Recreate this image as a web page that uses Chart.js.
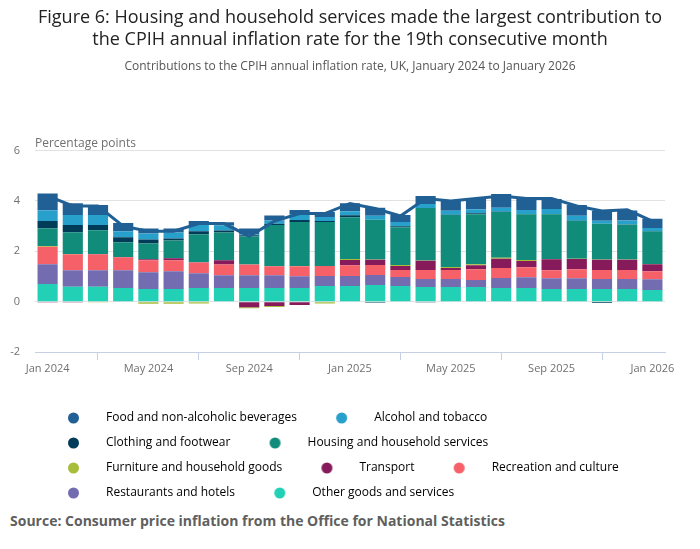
<!DOCTYPE html>
<html lang="en">
<head>
  <meta charset="UTF-8" />
  <title>Contributions to the CPIH annual inflation rate</title>
  <script src="https://cdn.jsdelivr.net/npm/chart.js"></script>
  <style>
    body { margin: 0; background: #fff; font-family: "Open Sans", sans-serif; }
    #wrap { position: relative; width: 700px; height: 509px; }
    .source { margin: 0; padding: 2px 10px; font-size: 14px; font-weight: bold; color: #5f5f5f; }
  </style>
</head>
<body>
  <div id="wrap"><canvas id="cpihChart"></canvas></div>
  <p class="source">Source: Consumer price inflation from the Office for National Statistics</p>

  <script>
    // months, Jan 2024 to Jan 2026
    const months = [
      "Jan 2024", "Feb 2024", "Mar 2024", "Apr 2024", "May 2024", "Jun 2024",
      "Jul 2024", "Aug 2024", "Sep 2024", "Oct 2024", "Nov 2024", "Dec 2024",
      "Jan 2025", "Feb 2025", "Mar 2025", "Apr 2025", "May 2025", "Jun 2025",
      "Jul 2025", "Aug 2025", "Sep 2025", "Oct 2025", "Nov 2025", "Dec 2025",
      "Jan 2026"
    ];

    // contributions, percentage points
    const food        = [0.67, 0.47, 0.40, 0.32, 0.20, 0.16, 0.16, 0.12, 0.24, 0.20, 0.16, 0.20, 0.32, 0.32, 0.28, 0.32, 0.40, 0.43, 0.55, 0.51, 0.40, 0.43, 0.40, 0.40, 0.36];
    const alcohol     = [0.43, 0.40, 0.40, 0.24, 0.24, 0.24, 0.24, 0.20, 0.03, 0.13, 0.24, 0.16, 0.16, 0.16, 0.16, 0.16, 0.16, 0.16, 0.16, 0.16, 0.20, 0.20, 0.12, 0.16, 0.12];
    const clothing    = [0.28, 0.28, 0.20, 0.20, 0.16, 0.08, 0.12, 0.08, 0.05, 0.05, 0.08, 0.04, 0.08, -0.04, 0.04, -0.03, 0.01, 0.04, 0.01, 0.01, 0.01, 0.01, -0.05, 0.01, 0.01];
    const housing     = [0.71, 0.87, 0.95, 0.59, 0.63, 0.71, 1.11, 1.11, 1.11, 1.63, 1.74, 1.74, 1.66, 1.58, 1.50, 2.09, 2.06, 1.98, 1.82, 1.82, 1.78, 1.50, 1.42, 1.38, 1.30];
    const furniture   = [0.03, 0.01, -0.03, -0.02, -0.08, -0.08, -0.07, -0.02, -0.04, -0.04, 0.01, -0.05, 0.04, 0.01, 0.04, 0.01, 0.04, 0.04, 0.04, 0.04, 0.01, 0.01, 0.01, 0.01, 0.01];
    const transport   = [-0.03, -0.03, 0.01, 0.01, 0.04, 0.08, 0.01, 0.16, -0.22, -0.17, -0.13, -0.02, 0.20, 0.20, 0.16, 0.36, 0.08, 0.16, 0.36, 0.24, 0.43, 0.40, 0.40, 0.40, 0.28];
    const recreation  = [0.69, 0.63, 0.63, 0.51, 0.47, 0.43, 0.43, 0.43, 0.43, 0.36, 0.40, 0.40, 0.43, 0.40, 0.28, 0.36, 0.36, 0.43, 0.40, 0.40, 0.32, 0.36, 0.36, 0.36, 0.32];
    const restaurants = [0.79, 0.66, 0.66, 0.71, 0.67, 0.71, 0.59, 0.51, 0.51, 0.51, 0.47, 0.40, 0.40, 0.40, 0.36, 0.32, 0.32, 0.28, 0.40, 0.43, 0.43, 0.43, 0.40, 0.40, 0.43];
    const other       = [0.70, 0.59, 0.59, 0.54, 0.50, 0.50, 0.54, 0.54, 0.54, 0.54, 0.54, 0.62, 0.62, 0.66, 0.62, 0.58, 0.58, 0.58, 0.54, 0.54, 0.50, 0.50, 0.50, 0.50, 0.46];

    // CPIH annual rate, %
    const cpih = [4.2, 3.8, 3.8, 3.0, 2.8, 2.8, 3.1, 3.1, 2.6, 3.2, 3.5, 3.5, 3.9, 3.7, 3.4, 4.1, 4.0, 4.1, 4.2, 4.1, 4.1, 3.8, 3.6, 3.65, 3.2];

    // legend spacing: GAP between items, BREAK after the last item of a row
    const GAP = "  ";
    const BREAK = "\u2003".repeat(10);

    // legend order (top of stack first)
    const series = [
      { label: "Food and non-alcoholic beverages", data: food, colour: "#206095", tail: GAP },
      { label: "Alcohol and tobacco", data: alcohol, colour: "#27a0cc", tail: BREAK },
      { label: "Clothing and footwear", data: clothing, colour: "#003c57", tail: GAP },
      { label: "Housing and household services", data: housing, colour: "#118c7b", tail: BREAK },
      { label: "Furniture and household goods", data: furniture, colour: "#a8bd3a", tail: GAP },
      { label: "Transport", data: transport, colour: "#871a5b", tail: GAP },
      { label: "Recreation and culture", data: recreation, colour: "#f66068", tail: "" },
      { label: "Restaurants and hotels", data: restaurants, colour: "#746cb1", tail: GAP },
      { label: "Other goods and services", data: other, colour: "#22d0b6", tail: "" }
    ];

    Chart.defaults.font.family = "'Open Sans', sans-serif";
    Chart.defaults.color = "#707070";

    // legend marker: dot sitting left inside a wider box, so the text starts further right
    function legendDot(colour) {
      const c = document.createElement("canvas");
      c.width = 52;
      c.height = 12;
      const g = c.getContext("2d");
      g.fillStyle = colour;
      g.beginPath();
      g.arc(25.5, 6, 5.5, 0, Math.PI * 2);
      g.fill();
      return c;
    }

    const axisTitle = {
      id: "axisTitle",
      afterDraw(chart) {
        const { ctx, chartArea } = chart;
        ctx.save();
        ctx.font = "12px 'Open Sans', sans-serif";
        ctx.fillStyle = "#707070";
        ctx.textBaseline = "middle";
        ctx.fillText("Percentage points", chartArea.left, chartArea.top - 7);
        ctx.restore();
      }
    };

    const barSets = series.slice().reverse().map(s => ({
      type: "bar",
      label: s.label,
      data: s.data,
      backgroundColor: s.colour,
      borderWidth: 0,
      barPercentage: 0.8,
      categoryPercentage: 1.0
    }));

    new Chart(document.getElementById("cpihChart"), {
      data: {
        labels: months,
        datasets: [
          {
            type: "line",
            label: "CPIH",
            data: cpih,
            borderColor: "#206095",
            borderWidth: 3,
            pointRadius: 0,
            tension: 0,
            stack: "total",
            order: -1
          },
          ...barSets
        ]
      },
      options: {
        responsive: true,
        maintainAspectRatio: false,
        animation: false,
        layout: { padding: { left: 10, right: 10, top: 0, bottom: 0 } },
        scales: {
          x: {
            stacked: true,
            grid: { drawOnChartArea: false, drawTicks: true, tickLength: 8, color: "#c6d0e4" },
            border: { color: "#c6d0e4" },
            ticks: {
              autoSkip: false,
              maxRotation: 0,
              padding: 2,
              font: { size: 11 },
              callback: (value, index) => (index % 4 === 0 ? months[index] : null)
            },
            afterFit: scale => { scale.height = 47; }
          },
          y: {
            stacked: true,
            min: -2,
            max: 6,
            grid: { color: "#e2e2e2", drawTicks: false },
            border: { display: false },
            ticks: { stepSize: 2, padding: 15, font: { size: 11 } },
            afterFit: scale => { scale.width = 25; }
          },
          // empty right-hand margin so the titles stay centred on the page
          yRight: {
            position: "right",
            grid: { display: false },
            border: { display: false },
            ticks: { display: false },
            afterFit: scale => { scale.width = 25; }
          }
        },
        plugins: {
          title: {
            display: true,
            text: [
              "Figure 6: Housing and household services made the largest contribution to",
              "the CPIH annual inflation rate for the 19th consecutive month"
            ],
            color: "#222222",
            font: { size: 18, weight: "normal" },
            padding: { top: 7, bottom: 6 }
          },
          subtitle: {
            display: true,
            text: "Contributions to the CPIH annual inflation rate, UK, January 2024 to January 2026",
            color: "#555555",
            font: { size: 12 },
            padding: { top: 3, bottom: 77 }
          },
          legend: {
            position: "bottom",
            align: "start",
            fullSize: false,
            labels: {
              usePointStyle: true,
              pointStyleWidth: 52,
              padding: 13,
              color: "#707070",
              font: { size: 12 },
              // trailing spaces set the gaps and force the same line breaks as the original
              generateLabels: () => series.map((s, i) => ({
                text: s.label + s.tail,
                fillStyle: s.colour,
                strokeStyle: s.colour,
                lineWidth: 0,
                pointStyle: legendDot(s.colour),
                hidden: false,
                datasetIndex: series.length - i
              }))
            }
          },
          tooltip: { enabled: false }
        }
      },
      plugins: [axisTitle]
    });
  </script>
</body>
</html>
